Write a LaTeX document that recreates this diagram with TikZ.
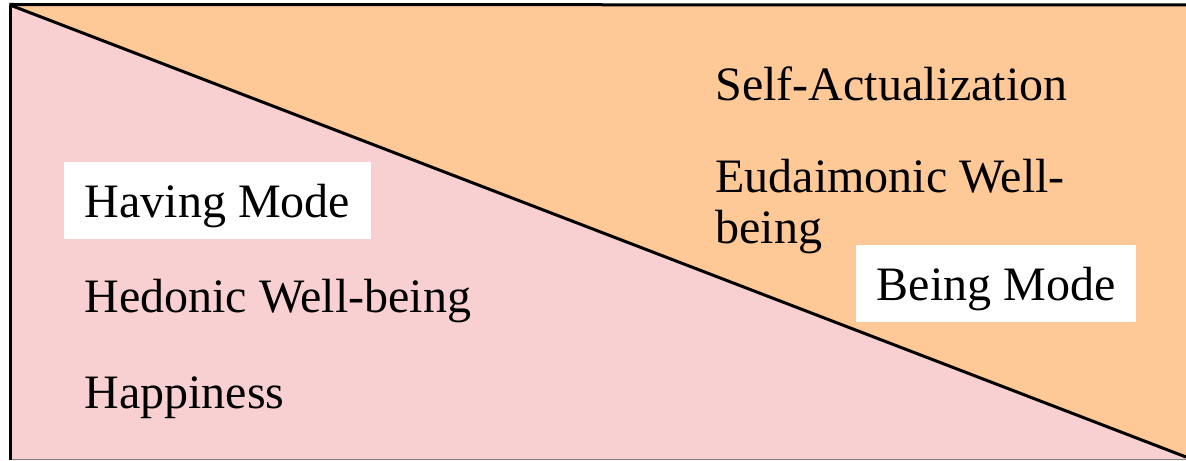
\documentclass[tikz,border=0pt]{standalone}
\usepackage{fontspec}
\setmainfont{Liberation Serif}
\definecolor{pinkfill}{HTML}{F9D0D2}
\definecolor{orangefill}{HTML}{FFC997}
\tikzset{
  lbl/.style={anchor=base west, inner sep=0pt, font=\fontsize{24}{25.5}\selectfont},
  modebox/.style={anchor=base, fill=white, inner sep=0pt, font=\fontsize{24}{25.5}\selectfont,
    text height=21.5pt, text depth=4.5pt},
  edge/.style={draw=black, line width=1.5pt},
}
\begin{document}
\begin{tikzpicture}[x=0.5pt,y=-0.5pt]
\useasboundingbox (0,0) rectangle (1186,460);
\coordinate (tl) at (10,5);
\coordinate (tr) at (1186,5);
\coordinate (dr) at (1186,457);
\coordinate (br) at (1186,460);
\coordinate (bl) at (10,460);
% fills
\fill[pinkfill] (tl) -- (dr) -- (br) -- (bl) -- cycle;
\fill[orangefill] (tl) -- (tr) -- (dr) -- cycle;
% borders
\draw[gray, line width=0.6pt] (10,459.3) -- (1186,459.3);
\draw[edge] (tl) -- (bl);
\draw[edge] (9.3,4.5) -- (tr);
\draw[edge] (tl) -- (dr);
% mode boxes
\node[modebox, minimum width=153.5pt, minimum height=38.5pt] (having) at (217.5,217) {Having Mode};
\node[modebox, minimum width=140pt, minimum height=38.5pt] (being) at (996,300) {Being Mode};
% labels
\node[lbl] (selfact) at (715,100) {Self-Actualization};
\node[lbl] (eud1) at (715,192) {Eudaimonic Well-};
\node[lbl] (eud2) at (715,243) {being};
\node[lbl] (hedonic) at (84,312) {Hedonic Well-being};
\node[lbl] (happy) at (84,408) {Happiness};
\end{tikzpicture}
\end{document}
